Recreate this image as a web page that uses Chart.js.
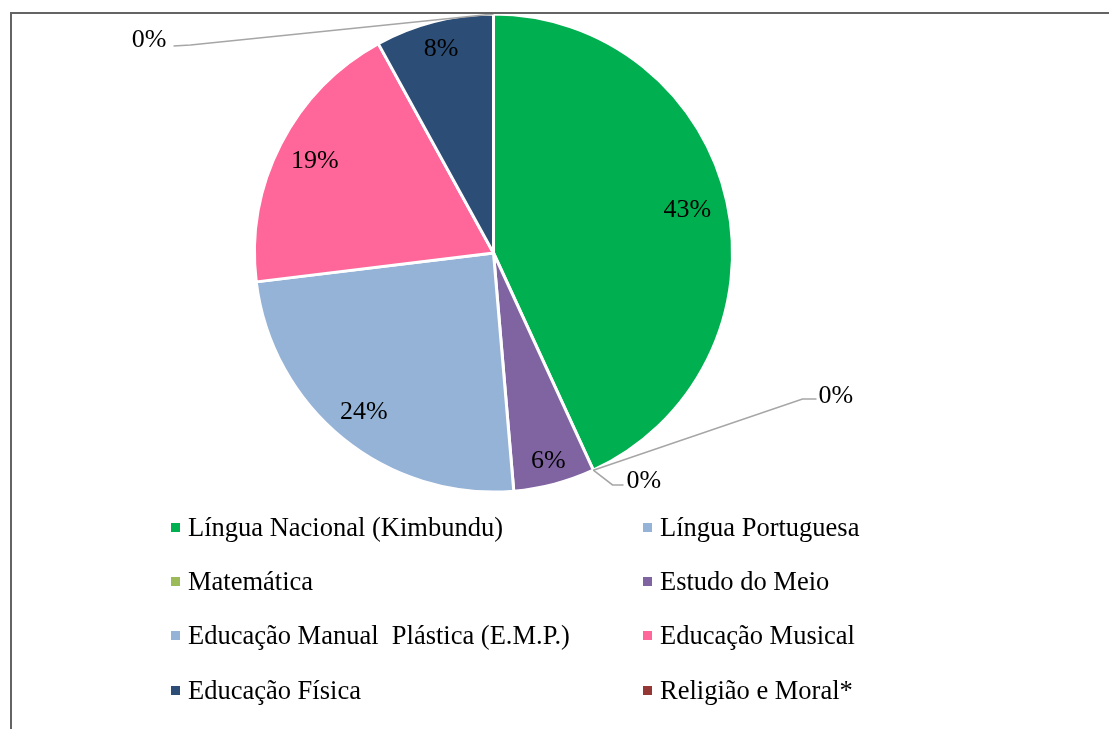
<!DOCTYPE html>
<html>
<head>
<meta charset="utf-8">
<script src="https://cdn.jsdelivr.net/npm/chart.js@4/dist/chart.umd.min.js"></script>
<style>
  html, body { margin: 0; padding: 0; background: #fff; }
  #wrap { position: relative; width: 1109px; height: 729px; overflow: hidden; }
  #frame { position: absolute; left: 10px; top: 12px; right: -5px; bottom: -5px;
           border-top: 2px solid #646464; border-left: 2px solid #646464; pointer-events: none; }
  canvas { position: absolute; left: 0; top: 0; }
  .leg { position: absolute; height: 30px; display: flex; align-items: center;
         font-family: "Liberation Serif", "Times New Roman", serif; font-size: 26.5px; color: #000; white-space: pre; }
  .leg i { display: inline-block; width: 9px; height: 9px; margin-right: 8px; }
</style>
</head>
<body>
<div id="wrap">
  <canvas id="c" width="1109" height="729"></canvas>
  <div id="frame"></div>
</div>
<script>
const categories = [
  "Língua Nacional (Kimbundu)",
  "Língua Portuguesa",
  "Matemática",
  "Estudo do Meio",
  "Educação Manual  Plástica (E.M.P.)",
  "Educação Musical",
  "Educação Física",
  "Religião e Moral*"
];
const values = [43.1, 0, 0, 5.5, 24.4, 18.9, 8.0, 0];
const colors = ["#00B050", "#95B3D7", "#9BBB59", "#8064A2", "#95B3D7", "#FF6699", "#2C4D75", "#953735"];

// HTML legend, two columns
const legendCols = [171, 643];
const legendRows = [527, 581, 635, 690];
const wrap = document.getElementById('wrap');
categories.forEach((name, i) => {
  const d = document.createElement('div');
  d.className = 'leg';
  d.style.left = legendCols[i % 2] + 'px';
  d.style.top = (legendRows[Math.floor(i / 2)] - 15) + 'px';
  const m = document.createElement('i');
  m.style.background = colors[i];
  d.appendChild(m);
  d.appendChild(document.createTextNode(name));
  wrap.appendChild(d);
});

const total = values.reduce((a, b) => a + b, 0);

const labelPlugin = {
  id: 'pieLabels',
  afterDatasetsDraw(chart, args, opts) {
    const ctx = chart.ctx;
    const meta = chart.getDatasetMeta(0);
    ctx.save();
    ctx.font = opts.font;
    ctx.fillStyle = '#000';
    meta.data.forEach((arc, i) => {
      const v = values[i];
      const txt = Math.round(v / total * 100) + '%';
      const cx = arc.x, cy = arc.y, R = arc.outerRadius;
      if (v > 0) {
        const mid = (arc.startAngle + arc.endAngle) / 2;
        const f = opts.frac[i];
        ctx.textAlign = 'center';
        ctx.textBaseline = 'middle';
        ctx.fillText(txt, cx + Math.cos(mid) * R * f, cy + Math.sin(mid) * R * f);
      } else {
        const L = opts.leaders[i];
        const a = arc.startAngle;
        const px = cx + Math.cos(a) * R, py = cy + Math.sin(a) * R;
        ctx.strokeStyle = '#A6A6A6';
        ctx.lineWidth = 1.6;
        ctx.beginPath();
        ctx.moveTo(px, py);
        ctx.lineTo(cx + L.elbow[0], cy + L.elbow[1]);
        ctx.lineTo(cx + L.end[0], cy + L.end[1]);
        ctx.stroke();
        ctx.textAlign = L.align;
        ctx.textBaseline = 'middle';
        ctx.fillText(txt, cx + L.label[0], cy + L.label[1]);
      }
    });
    ctx.restore();
  }
};

new Chart(document.getElementById('c'), {
  type: 'pie',
  data: {
    labels: categories,
    datasets: [{
      data: values,
      backgroundColor: colors,
      borderColor: '#ffffff',
      borderWidth: 3
    }]
  },
  options: {
    responsive: false,
    animation: false,
    radius: 239,
    layout: { padding: { left: 0, right: 122, top: 0, bottom: 223 } },
    plugins: {
      legend: { display: false },
      tooltip: { enabled: false },
      pieLabels: {
        font: '26px "Liberation Serif", "Times New Roman", serif',
        frac: [0.83, 0, 0, 0.90, 0.86, 0.84, 0.88, 0],
        leaders: {
          1: { elbow: [309, 146], end: [323, 146], label: [325, 143], align: 'left' },
          2: { elbow: [119, 232], end: [130, 232], label: [133, 228], align: 'left' },
          7: { elbow: [-303, -208], end: [-320, -207], label: [-327, -213], align: 'right' }
        }
      }
    }
  },
  plugins: [labelPlugin]
});
</script>
</body>
</html>
